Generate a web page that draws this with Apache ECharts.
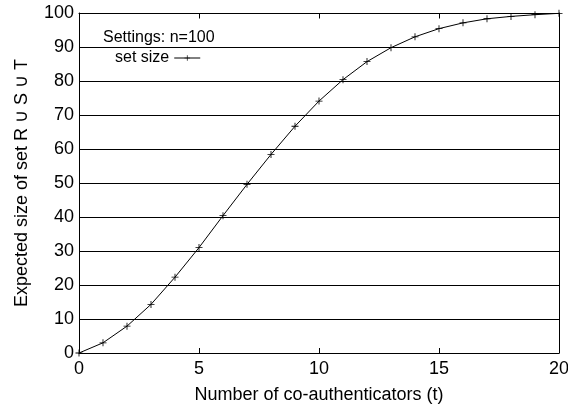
<!DOCTYPE html>
<html>
<head>
<meta charset="utf-8">
<script src="https://cdn.jsdelivr.net/npm/echarts@6/dist/echarts.min.js"></script>
<style>
html,body{margin:0;padding:0;background:#fff;}
#chart{width:568px;height:411px;}
</style>
</head>
<body>
<div id="chart"></div>
<script>
const tValues = [0,1,2,3,4,5,6,7,8,9,10,11,12,13,14,15,16,17,18,19,20];
const setSize = [0,3.0,7.9,14.3,22.3,31.0,40.4,49.6,58.4,66.7,74.1,80.4,85.7,89.8,93.0,95.4,97.1,98.3,99.0,99.5,99.9];
const xTicks = [0,5,10,15,20];
const yTicks = [0,10,20,30,40,50,60,70,80,90,100];
const xMin = 0, xMax = 20, yMin = 0, yMax = 100;
const xTitle = 'Number of co-authenticators (t)';
const yTitle = 'Expected size of set R \u222A S \u222A T';
const settingsText = 'Settings: n=100';
const seriesName = 'set size';

const font = '"Liberation Sans", Arial, Helvetica, sans-serif';
const points = tValues.map((t,i)=>[t,setSize[i]]);
const chart = echarts.init(document.getElementById('chart'));
const lineBlack = {show:true,onZero:false,lineStyle:{color:'#000',width:1}};
const tickIn = {show:true,inside:true,length:5,lineStyle:{color:'#000',width:1}};
chart.setOption({
  animation:false,
  backgroundColor:'#fff',
  grid:{left:79,right:9,top:13,bottom:58,outerBoundsMode:'none',show:false},
  title:{text:settingsText,left:98,top:25,textStyle:{fontFamily:font,fontSize:16,fontWeight:'normal',color:'#000'}},
  legend:{
    show:true,left:110,top:45,align:'right',itemWidth:26,itemHeight:7,itemGap:7,
    textStyle:{fontFamily:font,fontSize:16,color:'#000'},
    lineStyle:{width:1},
    data:[{name:seriesName}]
  },
  xAxis:[
    {type:'value',min:xMin,max:xMax,interval:5,position:'bottom',
      name:xTitle,nameLocation:'middle',nameGap:33,
      nameTextStyle:{fontFamily:font,fontSize:18,color:'#000'},
      axisLine:lineBlack,axisTick:tickIn,splitLine:{show:false},
      axisLabel:{fontFamily:font,fontSize:18,color:'#000',margin:7,
        formatter:v=>xTicks.includes(v)?String(v):''}},
    {type:'value',min:xMin,max:xMax,interval:5,position:'top',
      axisLine:lineBlack,axisTick:tickIn,splitLine:{show:false},axisLabel:{show:false}}
  ],
  yAxis:[
    {type:'value',min:yMin,max:yMax,interval:10,position:'left',
      name:yTitle,nameLocation:'middle',nameGap:48,
      nameTextStyle:{fontFamily:font,fontSize:18,color:'#000'},
      axisLine:lineBlack,axisTick:tickIn,
      splitLine:{show:true,interval:(idx,val)=>Number(val)===yMax,lineStyle:{color:'#000',width:1,type:'solid'}},
      axisLabel:{fontFamily:font,fontSize:18,color:'#000',margin:5,
        formatter:v=>yTicks.includes(v)?String(v):''}},
    {type:'value',min:yMin,max:yMax,interval:10,position:'right',
      axisLine:lineBlack,axisTick:tickIn,splitLine:{show:false},axisLabel:{show:false}}
  ],
  series:[{
    name:seriesName,type:'line',xAxisIndex:0,yAxisIndex:0,
    data:points,
    symbol:'path://M4.4,0H5.6V10H4.4Z M0,4.4H10V5.6H0Z',symbolSize:7,showSymbol:true,
    lineStyle:{color:'#000',width:1},
    itemStyle:{color:'#000'}
  },{
    name:'mirror',type:'line',xAxisIndex:1,yAxisIndex:1,
    data:points,showSymbol:false,silent:true,
    lineStyle:{opacity:0},itemStyle:{opacity:0}
  }]
});

// Top frame line and mirrored ticks, positioned through the chart's own scales
const topLeft = chart.convertToPixel({xAxisIndex:0,yAxisIndex:0},[xMin,yMax]);
const topRight = chart.convertToPixel({xAxisIndex:0,yAxisIndex:0},[xMax,yMax]);
const frameY = Math.round(topLeft[1]) + 0.5;
const frameEls = [{
  type:'line',z:100,silent:true,
  shape:{x1:Math.round(topLeft[0]),y1:frameY,x2:Math.round(topRight[0])+1,y2:frameY},
  style:{stroke:'#000',lineWidth:1}
}];
xTicks.filter(v=>v>xMin && v<xMax).forEach(v=>{
  const p = chart.convertToPixel({xAxisIndex:0,yAxisIndex:0},[v,yMax]);
  const x = Math.round(p[0]) + 0.5;
  frameEls.push({type:'line',z:100,silent:true,
    shape:{x1:x,y1:frameY,x2:x,y2:frameY+5},
    style:{stroke:'#000',lineWidth:1}});
});
chart.setOption({graphic:{elements:frameEls}});
</script>
</body>
</html>
